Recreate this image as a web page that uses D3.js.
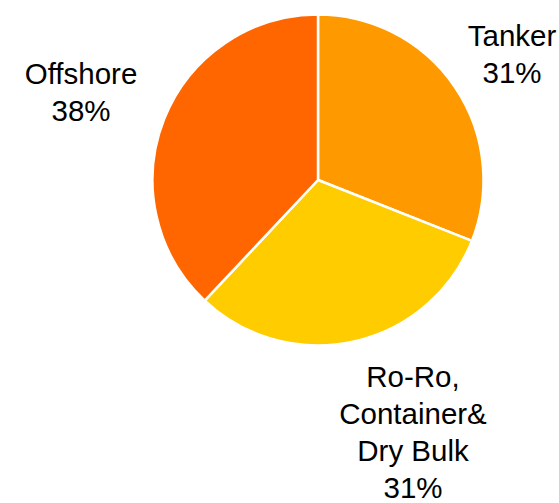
<!DOCTYPE html>
<html>
<head>
<meta charset="utf-8">
<script src="https://cdn.jsdelivr.net/npm/d3@7"></script>
<style>
  html, body { margin: 0; padding: 0; background: #fff; }
  svg { display: block; }
  text { font-family: "Liberation Sans", Arial, sans-serif; fill: #000; }
</style>
</head>
<body>
<svg id="chart" width="559" height="503"></svg>
<script>
// Fleet share by segment
const segments = ["Tanker", "Ro-Ro, Container& Dry Bulk", "Offshore"];
const shares = [31, 31, 38];
const colors = ["#FF9900", "#FFCC00", "#FF6600"];
// Label lines per segment (drawn centered on the given anchor)
const labelLines = [
  ["Tanker", "31%"],
  ["Ro-Ro,", "Container&", "Dry Bulk", "31%"],
  ["Offshore", "38%"]
];
const labelAnchors = [[512, 46], [413, 387], [81, 84]];

const W = 559, H = 503;
const cx = 318, cy = 180, radius = 165.5;
const lineHeight = 37;

const svg = d3.select("#chart");
const data = segments.map((name, i) => ({ name, value: shares[i], color: colors[i], i }));

const pie = d3.pie().value(d => d.value).sort(null);
const arc = d3.arc().innerRadius(0).outerRadius(radius);

const g = svg.append("g").attr("transform", `translate(${cx},${cy})`);
g.selectAll("path")
  .data(pie(data))
  .join("path")
  .attr("d", arc)
  .attr("fill", d => d.data.color)
  .attr("stroke", "#fff")
  .attr("stroke-width", 2.5)
  .attr("stroke-linejoin", "round");

const labels = svg.append("g");
data.forEach((d, i) => {
  const [x, y] = labelAnchors[i];
  const t = labels.append("text")
    .attr("x", x).attr("y", y)
    .attr("text-anchor", "middle")
    .style("font-size", "29.5px");
  labelLines[i].forEach((line, k) => {
    t.append("tspan")
      .attr("x", x)
      .attr("y", y + k * lineHeight)
      .text(line);
  });
});
</script>
</body>
</html>
